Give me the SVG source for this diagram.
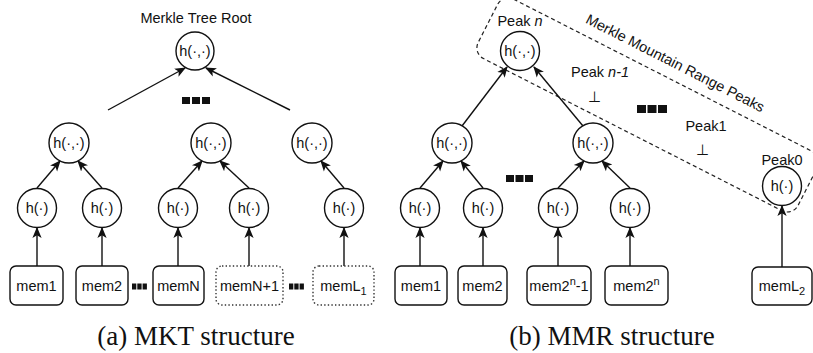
<svg xmlns="http://www.w3.org/2000/svg" width="813" height="353" viewBox="0 0 813 353">
<style>
  .n { fill: #fff; stroke: #111; stroke-width: 1.4; }
  .box { fill: #fff; stroke: #111; stroke-width: 1.4; }
  .dot { fill: #fff; stroke: #333; stroke-width: 1.4; stroke-dasharray: 1.4 2.2; }
  .t { font-family: "Liberation Sans", Arial, sans-serif; font-size: 14.5px; fill: #111; text-anchor: middle; }
  .cap { font-family: "Liberation Serif", "Times New Roman", serif; font-size: 27px; fill: #111; text-anchor: middle; }
  .e { stroke: #111; stroke-width: 1.4; fill: none; marker-end: url(#arr); }
  .sq { fill: #111; }
  .mmr { fill: none; stroke: #222; stroke-width: 1.2; stroke-dasharray: 4 3; }
</style>
<defs>
  <marker id="arr" viewBox="0 0 10 10" refX="9" refY="5" markerUnits="userSpaceOnUse" markerWidth="11" markerHeight="11" orient="auto">
    <path d="M0,0.8 L10,5 L0,9.2 L2.5,5 z" fill="#111"/>
  </marker>
</defs>

<!-- MMR dashed peaks region -->
<g id="mmr-peaks-region">
  <rect class="mmr" x="0" y="0" width="359" height="66.6" rx="12" transform="translate(503,-6.2) rotate(27)"/>
  <text class="t" transform="translate(673,67.5) rotate(27)">Merkle Mountain Range Peaks</text>
</g>

<g id="connectors">
  <!-- MKT -->
  <line class="e" x1="108" y1="110" x2="185" y2="68"/>
  <line class="e" x1="290" y1="110" x2="206" y2="68"/>
  <line class="e" x1="37" y1="188" x2="60" y2="161"/>
  <line class="e" x1="102" y1="188" x2="78" y2="161"/>
  <line class="e" x1="178" y1="188" x2="202" y2="161"/>
  <line class="e" x1="249" y1="188" x2="220" y2="161"/>
  <line class="e" x1="344" y1="188" x2="321" y2="161"/>
  <line class="e" x1="37" y1="266" x2="37" y2="228"/>
  <line class="e" x1="102" y1="266" x2="102" y2="228"/>
  <line class="e" x1="178" y1="266" x2="178" y2="228"/>
  <line class="e" x1="249" y1="266" x2="249" y2="228"/>
  <line class="e" x1="344" y1="266" x2="344" y2="228"/>
  <!-- MMR -->
  <line class="e" x1="462" y1="126" x2="507" y2="67"/>
  <line class="e" x1="583" y1="126" x2="534" y2="67"/>
  <line class="e" x1="420" y1="188" x2="443" y2="161"/>
  <line class="e" x1="483" y1="188" x2="461" y2="161"/>
  <line class="e" x1="558" y1="188" x2="584" y2="161"/>
  <line class="e" x1="630" y1="188" x2="602" y2="161"/>
  <line class="e" x1="420" y1="266" x2="420" y2="228"/>
  <line class="e" x1="483" y1="266" x2="483" y2="228"/>
  <line class="e" x1="558" y1="266" x2="558" y2="228"/>
  <line class="e" x1="630" y1="266" x2="630" y2="228"/>
  <line class="e" x1="782" y1="267" x2="782" y2="206"/>
</g>

<!-- ===== MKT ===== -->
<g id="mkt-root"><text class="t" x="196" y="23">Merkle Tree Root</text><circle class="n" cx="195" cy="51" r="19"/><text class="t" x="195" y="56">h(·,·)</text></g>
<g id="mkt-ellipsis-top"><rect class="sq" x="182" y="97" width="8" height="7"/><rect class="sq" x="192" y="97" width="8" height="7"/><rect class="sq" x="202" y="97" width="8" height="7"/></g>
<g id="mkt-l2-1"><circle class="n" cx="69" cy="143" r="20"/><text class="t" x="69" y="148">h(·,·)</text></g>
<g id="mkt-l2-2"><circle class="n" cx="211" cy="143" r="20"/><text class="t" x="211" y="148">h(·,·)</text></g>
<g id="mkt-l2-3"><circle class="n" cx="312" cy="143" r="20"/><text class="t" x="312" y="148">h(·,·)</text></g>
<g id="mkt-h1"><circle class="n" cx="37" cy="208" r="19.5"/><text class="t" x="37" y="213">h(·)</text></g>
<g id="mkt-h2"><circle class="n" cx="102" cy="208" r="19.5"/><text class="t" x="102" y="213">h(·)</text></g>
<g id="mkt-h3"><circle class="n" cx="178" cy="208" r="19.5"/><text class="t" x="178" y="213">h(·)</text></g>
<g id="mkt-h4"><circle class="n" cx="249" cy="208" r="19.5"/><text class="t" x="249" y="213">h(·)</text></g>
<g id="mkt-h5"><circle class="n" cx="344" cy="208" r="19.5"/><text class="t" x="344" y="213">h(·)</text></g>
<g id="mkt-mem1"><rect class="box" x="10" y="266" width="53" height="39" rx="6"/><text class="t" x="36.5" y="291">mem1</text></g>
<g id="mkt-mem2"><rect class="box" x="76" y="266" width="52" height="39" rx="6"/><text class="t" x="102" y="291">mem2</text></g>
<g id="mkt-ellipsis-1"><rect class="sq" x="132" y="283.5" width="4.3" height="6"/><rect class="sq" x="137.3" y="283.5" width="4.3" height="6"/><rect class="sq" x="142.6" y="283.5" width="4.3" height="6"/></g>
<g id="mkt-memN"><rect class="box" x="153" y="266" width="51" height="39" rx="6"/><text class="t" x="178.5" y="291">memN</text></g>
<g id="mkt-memN1"><rect class="dot" x="216" y="266" width="67" height="39" rx="6"/><text class="t" x="249.5" y="291">memN+1</text></g>
<g id="mkt-ellipsis-2"><rect class="sq" x="289" y="283.5" width="4.3" height="6"/><rect class="sq" x="294.3" y="283.5" width="4.3" height="6"/><rect class="sq" x="299.6" y="283.5" width="4.3" height="6"/></g>
<g id="mkt-memL1"><rect class="dot" x="313" y="266" width="61" height="39" rx="6"/><text class="t" x="343.5" y="291">memL<tspan font-size="11" dy="4">1</tspan></text></g>
<text class="cap" x="196" y="345">(a)  MKT structure</text>

<!-- ===== MMR ===== -->
<g id="mmr-peak-n"><text class="t" x="520" y="26">Peak <tspan font-style="italic">n</tspan></text><circle class="n" cx="520" cy="51" r="19.5"/><text class="t" x="520" y="56">h(·,·)</text></g>
<g id="mmr-peak-n1"><text class="t" x="600" y="77">Peak <tspan font-style="italic">n-1</tspan></text><text class="t" x="594" y="102">⊥</text></g>
<g id="mmr-ellipsis-peaks"><rect class="sq" x="637" y="105" width="9" height="8"/><rect class="sq" x="647.5" y="105" width="9" height="8"/><rect class="sq" x="658" y="105" width="9" height="8"/></g>
<g id="mmr-peak1"><text class="t" x="706" y="131">Peak1</text><text class="t" x="702" y="155">⊥</text></g>
<g id="mmr-peak0"><text class="t" x="782" y="165">Peak0</text><circle class="n" cx="782" cy="186" r="19.5"/><text class="t" x="782" y="191">h(·)</text></g>
<g id="mmr-l2-1"><circle class="n" cx="452" cy="143" r="20"/><text class="t" x="452" y="148">h(·,·)</text></g>
<g id="mmr-l2-2"><circle class="n" cx="593" cy="143" r="20"/><text class="t" x="593" y="148">h(·,·)</text></g>
<g id="mmr-ellipsis-mid"><rect class="sq" x="506" y="175" width="8" height="7"/><rect class="sq" x="515.5" y="175" width="8" height="7"/><rect class="sq" x="525" y="175" width="8" height="7"/></g>
<g id="mmr-h1"><circle class="n" cx="420" cy="208" r="19.5"/><text class="t" x="420" y="213">h(·)</text></g>
<g id="mmr-h2"><circle class="n" cx="483" cy="208" r="19.5"/><text class="t" x="483" y="213">h(·)</text></g>
<g id="mmr-h3"><circle class="n" cx="558" cy="208" r="19.5"/><text class="t" x="558" y="213">h(·)</text></g>
<g id="mmr-h4"><circle class="n" cx="630" cy="208" r="19.5"/><text class="t" x="630" y="213">h(·)</text></g>
<g id="mmr-mem1"><rect class="box" x="395" y="266" width="52" height="39" rx="6"/><text class="t" x="421" y="291">mem1</text></g>
<g id="mmr-mem2"><rect class="box" x="458" y="266" width="49" height="39" rx="6"/><text class="t" x="482.5" y="291">mem2</text></g>
<g id="mmr-mem2n1"><rect class="box" x="527" y="266" width="64" height="39" rx="6"/><text class="t" x="559" y="291">mem2<tspan font-size="11" dy="-6">n</tspan><tspan dy="6">-1</tspan></text></g>
<g id="mmr-mem2n"><rect class="box" x="605" y="266" width="63" height="39" rx="6"/><text class="t" x="636.5" y="291">mem2<tspan font-size="11" dy="-6">n</tspan></text></g>
<g id="mmr-memL2"><rect class="box" x="752" y="267" width="60" height="38" rx="6"/><text class="t" x="782" y="291">memL<tspan font-size="11" dy="4">2</tspan></text></g>
<text class="cap" x="612" y="345">(b)  MMR structure</text>
</svg>
